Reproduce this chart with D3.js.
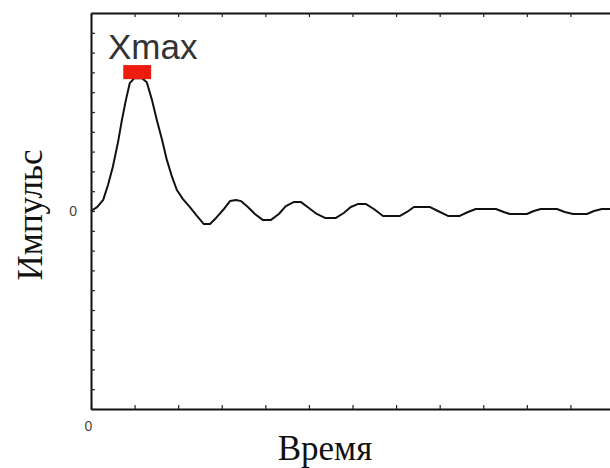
<!DOCTYPE html>
<html>
<head>
<meta charset="utf-8">
<script src="https://cdn.jsdelivr.net/npm/d3@7"></script>
<style>
  body { margin: 0; background: #fff; }
  svg { display: block; }
</style>
</head>
<body>
<div id="chart"></div>
<script>
// time (arbitrary units) and impulse values
const time = [0, 0.14, 0.28, 0.39, 0.5, 0.62, 0.71, 0.8, 0.89, 0.99, 1.17, 1.28, 1.4, 1.51, 1.63, 1.74, 1.86, 1.97,
  2.11, 2.27, 2.43, 2.59, 2.73, 2.87, 3.03, 3.19, 3.33, 3.44, 3.6, 3.76, 3.94, 4.13, 4.31, 4.47, 4.65, 4.82,
  5.0, 5.18, 5.37, 5.62, 5.8, 5.96, 6.12, 6.31, 6.49, 6.7, 7.09, 7.25, 7.41, 7.78, 7.96, 8.19, 8.46, 8.65,
  8.83, 9.29, 9.47, 9.61, 10.0, 10.16, 10.32, 10.69, 10.87, 11.06, 11.38, 11.54, 11.72, 12];
const impulse = [0, 0.2, 0.56, 1.31, 2.22, 3.48, 4.6, 5.6, 6.46, 6.7, 6.7, 6.5, 5.6, 4.6, 3.6, 2.58, 1.72, 1.06,
  0.6, 0.2, -0.25, -0.66, -0.66, -0.35, 0.05, 0.5, 0.56, 0.5, 0.2, -0.15, -0.45, -0.45, -0.15, 0.25, 0.45, 0.45,
  0.15, -0.15, -0.35, -0.35, -0.1, 0.2, 0.35, 0.35, 0.1, -0.25, -0.25, -0.05, 0.2, 0.2, 0, -0.25, -0.25, -0.05,
  0.1, 0.1, -0.05, -0.15, -0.15, 0, 0.1, 0.1, -0.05, -0.15, -0.15, 0, 0.1, 0.1];
const xTicks = d3.range(0, 13);
const yTicks = d3.range(-10, 11);
const maxMark = { x0: 0.74, x1: 1.38, y0: 6.66, y1: 7.37, label: "Xmax" };

const width = 610, height = 468;
const svg = d3.select("#chart").append("svg")
  .attr("width", width)
  .attr("height", height);

const x = d3.scaleLinear().domain([0, 12]).range([91, 614]);
const y = d3.scaleLinear().domain([-10, 10]).range([409, 13]);

const onlyZero = d => d === 0 ? "0" : "";

// axes with inward ticks
const bottom = svg.append("g")
  .attr("transform", `translate(0,${y(-10)})`)
  .call(d3.axisBottom(x).tickValues(xTicks).tickSizeInner(-4).tickSizeOuter(0).tickPadding(12).tickFormat(onlyZero));
bottom.selectAll("text").attr("dx", -3);

svg.append("g")
  .attr("transform", `translate(0,${y(10)})`)
  .call(d3.axisTop(x).tickValues(xTicks).tickSizeInner(-4).tickSizeOuter(0).tickFormat(""));

svg.append("g")
  .attr("transform", `translate(${x(0)},0)`)
  .call(d3.axisLeft(y).tickValues(yTicks).tickSizeInner(-4).tickSizeOuter(0).tickPadding(14).tickFormat(onlyZero));

svg.selectAll(".domain").attr("stroke", "#111").attr("stroke-width", 2);
svg.selectAll(".tick line").attr("stroke", "#222").attr("stroke-width", 1.2);
svg.selectAll(".tick text")
  .attr("font-family", "Liberation Sans, Arial, sans-serif")
  .attr("font-size", 14)
  .attr("fill", "#444");

// pulse curve
const pts = time.map((t, i) => [t, impulse[i]]);
svg.append("path")
  .datum(pts)
  .attr("fill", "none")
  .attr("stroke", "#111")
  .attr("stroke-width", 2)
  .attr("stroke-linejoin", "round")
  .attr("d", d3.line().x(d => x(d[0])).y(d => y(d[1])));

// peak marker
svg.append("rect")
  .attr("x", x(maxMark.x0))
  .attr("y", y(maxMark.y1))
  .attr("width", x(maxMark.x1) - x(maxMark.x0))
  .attr("height", y(maxMark.y0) - y(maxMark.y1))
  .attr("fill", "#ee1c0e");

svg.append("text")
  .attr("x", 108)
  .attr("y", 59)
  .attr("font-family", "Liberation Sans, Arial, sans-serif")
  .attr("font-size", 35)
  .attr("fill", "#333")
  .text(maxMark.label);

// axis titles
svg.append("text")
  .attr("x", 325)
  .attr("y", 460)
  .attr("text-anchor", "middle")
  .attr("font-family", "Liberation Serif, Times New Roman, serif")
  .attr("font-size", 35)
  .attr("fill", "#111")
  .text("Время");

svg.append("text")
  .attr("transform", "translate(42,215) rotate(-90)")
  .attr("text-anchor", "middle")
  .attr("font-family", "Liberation Serif, Times New Roman, serif")
  .attr("font-size", 35)
  .attr("fill", "#111")
  .text("Импульс");
</script>
</body>
</html>
